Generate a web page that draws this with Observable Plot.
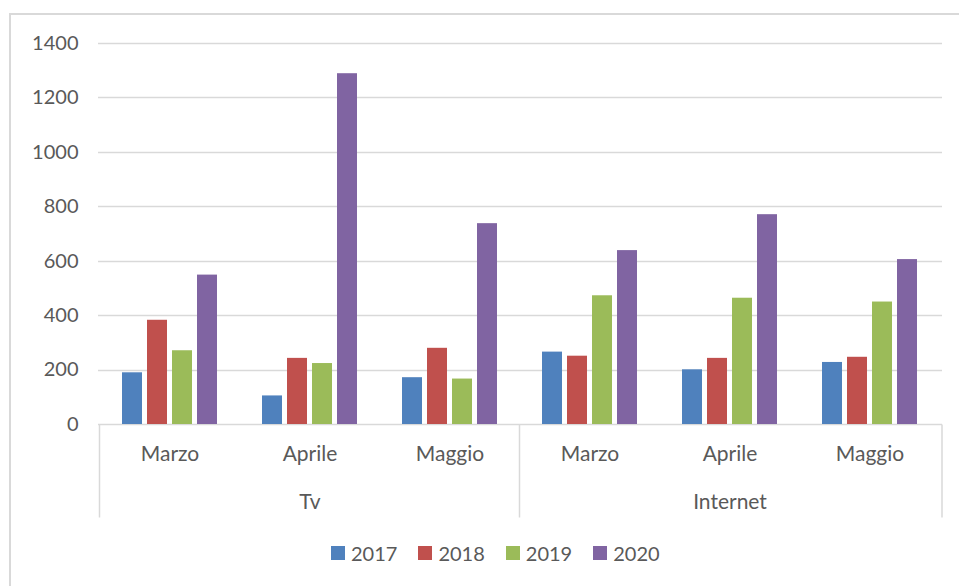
<!DOCTYPE html>
<html>
<head>
<meta charset="utf-8">
<script src="https://cdn.jsdelivr.net/npm/d3@7"></script>
<script src="https://cdn.jsdelivr.net/npm/@observablehq/plot@0.6"></script>
<style>
  html, body { margin: 0; padding: 0; background: #fff; overflow: hidden; }
  #wrap { position: relative; width: 959px; height: 586px; overflow: hidden; font-family: Lato, "Open Sans", sans-serif; }
  #border { position: absolute; left: 9px; top: 13px; width: 1000px; height: 1000px; border: 2px solid #D9D9D9; box-sizing: border-box; }
  #chart { position: absolute; left: 0; top: 0; }
  #legend { position: absolute; left: 331px; top: 541px; color: #595959; font-size: 20px; }
  .lg-swatches { min-height: 24px !important; font-family: Lato, sans-serif !important; font-size: 20px !important; color: #595959 !important; }
  .lg-swatch { margin-right: 21px !important; }
  .lg-swatch > svg { margin-right: 6px !important; }
</style>
</head>
<body>
<div id="wrap">
  <div id="border"></div>
  <div id="chart"></div>
  <div id="legend"></div>
</div>
<script>
// ---- data ----
const groups = ["Tv", "Internet"];
const months = ["Marzo", "Aprile", "Maggio"];
const years = ["2017", "2018", "2019", "2020"];
const colors = ["#4F81BD", "#C0504D", "#9BBB59", "#8064A2"];
// order: Tv Marzo, Tv Aprile, Tv Maggio, Internet Marzo, Internet Aprile, Internet Maggio
const values2017 = [190, 105, 172, 266, 201, 228];
const values2018 = [383, 243, 280, 251, 243, 247];
const values2019 = [271, 224, 167, 473, 464, 450];
const values2020 = [549, 1289, 738, 639, 771, 606];
const yTicks = [0, 200, 400, 600, 800, 1000, 1200, 1400];

const seriesByYear = { "2017": values2017, "2018": values2018, "2019": values2019, "2020": values2020 };
const keys = [];
const monthRows = [];
groups.forEach(g => months.forEach(m => { keys.push(g + "|" + m); monthRows.push({ key: g + "|" + m, month: m }); }));
const groupRows = groups.map(g => ({ key: g + "|" + months[1], group: g }));
const rows = [];
years.forEach(y => seriesByYear[y].forEach((v, i) => rows.push({ key: keys[i], year: y, value: v })));

const plot = Plot.plot({
  width: 959,
  height: 530,
  marginLeft: 98,
  marginRight: 17,
  marginTop: 43,
  marginBottom: 106,
  style: { fontFamily: "Lato, sans-serif", fontSize: "20px", color: "#595959", background: "transparent", overflow: "visible" },
  fx: { domain: keys, paddingInner: 0.235, paddingOuter: 0.1175, axis: null, label: null },
  x: { domain: years, padding: 0.22, axis: null, label: null },
  y: { domain: [0, 1400], ticks: yTicks, tickFormat: d => String(d), tickSize: 0, tickPadding: 38, label: null },
  color: { domain: years, range: colors },
  marks: [
    Plot.barY(rows, { fx: "key", x: "year", y: "value", fill: "year" }),
    Plot.text(monthRows, { fx: "key", text: "month", frameAnchor: "bottom", lineAnchor: "middle", dy: 30, fill: "#595959", fontSize: 21 }),
    Plot.text(groupRows, { fx: "key", text: "group", frameAnchor: "bottom", lineAnchor: "middle", dy: 78, fill: "#595959", fontSize: 21 })
  ]
});
document.getElementById("chart").appendChild(plot);

// gridlines and category-axis separators from the plot's own scales
const yS = plot.scale("y");
const fxS = plot.scale("fx");
const svg = d3.select(plot);
const left = 98, right = 959 - 17;
const gGrid = svg.insert("g", ":first-child").attr("stroke", "#D9D9D9").attr("stroke-width", 1.5);
yTicks.forEach(t => {
  const y = Math.round(yS.apply(t)) + 0.5;
  gGrid.append("line").attr("x1", left).attr("x2", right).attr("y1", y).attr("y2", y);
});
const y0 = Math.round(yS.apply(0)) + 0.5;
const step = fxS.step;
const sepX = [];
groups.forEach(g => {
  const k = g + "|" + months[0];
  sepX.push(fxS.apply(k) - (step - fxS.bandwidth) / 2);
});
sepX.push(right);
sepX.forEach(x => {
  gGrid.append("line").attr("x1", x).attr("x2", x).attr("y1", y0).attr("y2", y0 + 93);
});

const leg = plot.legend("color", { legend: "swatches", swatchSize: 14, className: "lg" });
document.getElementById("legend").appendChild(leg);
</script>
</body>
</html>
